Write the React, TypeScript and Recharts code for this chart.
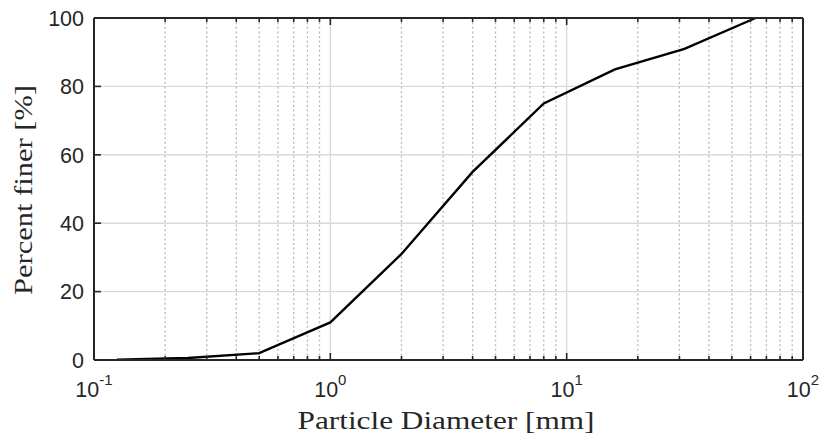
import React from "react";
import { CartesianGrid, Line, LineChart, ReferenceLine, XAxis, YAxis } from "recharts";

// sieve sizes [mm] and cumulative percent passing
const diameters = [0.125, 0.25, 0.5, 1, 2, 4, 8, 16, 31.5, 63];
const percentFiner = [0.1, 0.6, 2, 11, 31, 55, 75, 85, 91, 100];

const majorX = [0.1, 1, 10, 100];
const xExponents = ["-1", "0", "1", "2"];
const minorX = [
  0.2, 0.3, 0.4, 0.5, 0.6, 0.7, 0.8, 0.9,
  2, 3, 4, 5, 6, 7, 8, 9,
  20, 30, 40, 50, 60, 70, 80, 90,
];
const yTicks = [0, 20, 40, 60, 80, 100];

const data = diameters.map((d, i) => ({ d, p: percentFiner[i] }));
const allX = [...majorX, ...minorX].sort((a, b) => a - b);

const AXIS = "#262626";
const GRID = "#dadada";
const DOTS = "#b8b8b8";
const TICK_FONT = "'Liberation Sans', Arial, sans-serif";
const TITLE_FONT = "'Liberation Serif', 'Times New Roman', serif";

const W = 823;
const H = 436;

const BottomTick = (props: any) => {
  const { x, y, payload } = props;
  const idx = majorX.indexOf(payload.value);
  const len = idx >= 0 ? 7 : 4;
  return (
    <g>
      <line x1={x} x2={x} y1={y} y2={y - len} stroke={AXIS} strokeWidth={1.6} />
      {idx >= 0 && (
        <text x={x} y={y + 37} textAnchor="middle" fontFamily={TICK_FONT} fontSize={21.5} fill={AXIS}>
          10
          <tspan dy={-12} fontSize={15}>{xExponents[idx]}</tspan>
        </text>
      )}
    </g>
  );
};

const TopTick = (props: any) => {
  const { x, y, payload } = props;
  const len = majorX.indexOf(payload.value) >= 0 ? 7 : 4;
  return <line x1={x} x2={x} y1={y} y2={y + len} stroke={AXIS} strokeWidth={1.6} />;
};

const LeftTick = (props: any) => {
  const { x, y, payload } = props;
  return (
    <g>
      <line x1={x} x2={x + 7} y1={y} y2={y} stroke={AXIS} strokeWidth={1.6} />
      <text x={x - 10} y={y} dy="0.36em" textAnchor="end" fontFamily={TICK_FONT} fontSize={21.5} fill={AXIS}>
        {payload.value}
      </text>
    </g>
  );
};

const RightTick = (props: any) => {
  const { x, y } = props;
  return <line x1={x} x2={x - 7} y1={y} y2={y} stroke={AXIS} strokeWidth={1.6} />;
};

export default function App() {
  return (
    <div style={{ position: "relative", width: W, height: H, background: "#fff" }}>
      <style>{`body{margin:0}`}</style>
      <LineChart width={W} height={H} data={data} margin={{ top: 17, right: 19, bottom: 75, left: 93 }}>
        <CartesianGrid vertical={false} stroke={GRID} strokeWidth={1.4} />
        {minorX.map((v) => (
          <ReferenceLine key={v} x={v} stroke={DOTS} strokeWidth={1.3} strokeDasharray="2 2.6" />
        ))}
        <ReferenceLine x={1} stroke={GRID} strokeWidth={1.4} />
        <ReferenceLine x={10} stroke={GRID} strokeWidth={1.4} />
        <XAxis
          dataKey="d"
          type="number"
          scale="log"
          domain={[0.1, 100]}
          ticks={allX}
          interval={0}
          height={1}
          tickSize={0}
          tickMargin={0}
          tick={BottomTick}
          axisLine={{ stroke: AXIS, strokeWidth: 2 }}
          allowDataOverflow
        />
        <XAxis
          xAxisId="top"
          orientation="top"
          dataKey="d"
          type="number"
          scale="log"
          domain={[0.1, 100]}
          ticks={allX}
          interval={0}
          height={1}
          tickSize={0}
          tickMargin={0}
          tick={TopTick}
          axisLine={{ stroke: AXIS, strokeWidth: 2 }}
          allowDataOverflow
        />
        <YAxis
          type="number"
          domain={[0, 100]}
          ticks={yTicks}
          interval={0}
          width={1}
          tickSize={0}
          tickMargin={0}
          tick={LeftTick}
          axisLine={{ stroke: AXIS, strokeWidth: 2 }}
        />
        <YAxis
          yAxisId="r"
          orientation="right"
          type="number"
          domain={[0, 100]}
          ticks={yTicks}
          interval={0}
          width={1}
          tickSize={0}
          tickMargin={0}
          tick={RightTick}
          axisLine={{ stroke: AXIS, strokeWidth: 2 }}
        />
        <Line
          type="linear"
          dataKey="p"
          stroke="#000"
          strokeWidth={2.4}
          dot={false}
          isAnimationActive={false}
        />
      </LineChart>
      <svg width={W} height={H} style={{ position: "absolute", left: 0, top: 0, pointerEvents: "none" }}>
        <text
          x={446}
          y={429}
          textAnchor="middle"
          fontFamily={TITLE_FONT}
          fontSize={25}
          fill={AXIS}
          textLength={297}
          lengthAdjust="spacingAndGlyphs"
        >
          Particle Diameter [mm]
        </text>
        <text
          transform="translate(32,190) rotate(-90)"
          textAnchor="middle"
          fontFamily={TITLE_FONT}
          fontSize={25}
          fill={AXIS}
          textLength={210}
          lengthAdjust="spacingAndGlyphs"
        >
          Percent finer [%]
        </text>
      </svg>
    </div>
  );
}
